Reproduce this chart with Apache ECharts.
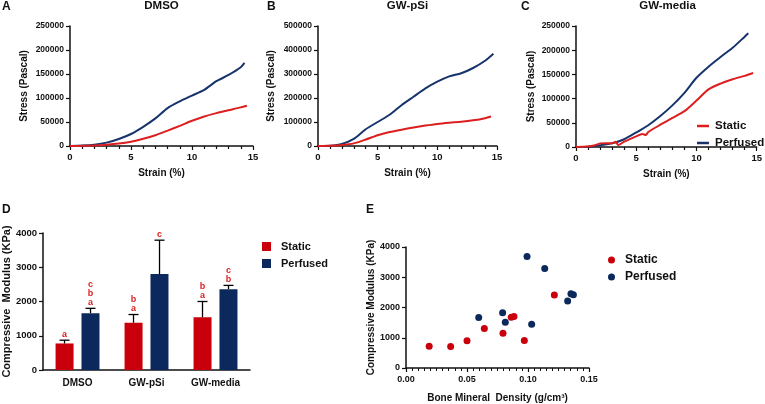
<!DOCTYPE html>
<html><head><meta charset="utf-8">
<script src="https://cdn.jsdelivr.net/npm/echarts@6/dist/echarts.min.js"></script>
<style>html,body{margin:0;padding:0;background:#fff}#c{width:765px;height:404px}</style>
</head><body><div id="c"></div>
<script>
// ---------- DATA ----------
// Panels A-C: stress-strain curves [strain %, stress Pa]
const dmsoPerfused = [[0,0],[1,800],[2,2800],[3,7000],[4,14600],[5,25000],[6,40000],[7,57600],[8,79000],[9,93000],[10,105000],[11,117000],[12,135000],[13,148000],[14,164000],[14.3,173000]];
const dmsoStatic   = [[0,0],[1,300],[2,1000],[3,2500],[4,5000],[5,9000],[6,15000],[7,22500],[8,32000],[9,42000],[10,52500],[11,61500],[12,68500],[13,74500],[14,80500],[14.5,84000]];
const gwpsiPerfused = [[0,0],[1,1500],[2,9000],[3,30000],[4,70000],[5,100000],[6,130000],[7,170000],[8,205000],[9,240000],[10,268000],[11,290000],[12,303000],[13,325000],[14,355000],[14.7,384000]];
const gwpsiStatic   = [[0,0],[1,1000],[2,4000],[3,11000],[4,27000],[5,45000],[6,58000],[7,68000],[8,77000],[9,85000],[10,92000],[11,97000],[12,101000],[13,107000],[14,116000],[14.5,123000]];
const gwmPerfused = [[0,0],[1,500],[2,3500],[3,7500],[4,16000],[5,30000],[6,45000],[7,64000],[8,86000],[9,112000],[10,143000],[11,166000],[12,186000],[13,205000],[14,228000],[14.3,235000]];
const gwmStatic   = [[0,0],[1,1000],[1.5,3000],[2,7500],[2.5,8000],[3,8000],[3.3,11000],[3.5,4000],[4,11000],[5,22000],[5.5,27000],[5.8,25000],[6,31000],[7,46000],[8,60000],[9,74000],[10,96000],[11,119000],[12,131000],[13,140000],[14,147000],[14.7,153000]];

// Panel D: compressive modulus bars
const categories = ['DMSO','GW-pSi','GW-media'];
const staticMean = [775, 1380, 1540];
const staticErr  = [95, 240, 460];
const perfusedMean = [1660, 2800, 2360];
const perfusedErr  = [140, 990, 110];
const staticLetters = ['a','b\na','b\na'];
const perfusedLetters = ['c\nb\na','c','c\nb'];

// Panel E: modulus vs bone mineral density
const bmdStatic = [0.019,0.0366,0.050,0.0642,0.0795,0.0863,0.0885,0.097,0.1216];
const modStatic = [723,712,899,1304,1151,1677,1699,910,2411];
const bmdPerfused = [0.0596,0.0792,0.0814,0.0992,0.103,0.1137,0.1325,0.1352,0.1372];
const modPerfused = [1666,1830,1512,3682,1447,3288,2214,2455,2422];

const titles = ['DMSO','GW-pSi','GW-media'];
const panelLetters = ['A','B','C','D','E'];

// ---------- STYLE ----------
const FONT = '"Liberation Sans", Arial, sans-serif';
const RED = '#dc1e1e', NAVY = '#16336c', BAR_RED = '#c9000b', BAR_NAVY = '#0b295c', INK = '#111';

const chart = echarts.init(document.getElementById('c'), null, {renderer:'canvas'});

const grids = [
  {left:70, top:26, width:183, height:120},
  {left:318, top:26, width:179, height:120},
  {left:576, top:26, width:183, height:121},
  {left:40, top:233, width:210, height:137},
  {left:406, top:247, width:183, height:121}
];

const axisLine = {show:true, onZero:false, lineStyle:{color:INK, width:1.5}};
const axisTick = {show:true, inside:false, length:4, lineStyle:{color:INK, width:1.2}};
const lbl = (size, extra) => Object.assign({color:INK, fontFamily:FONT, fontWeight:'bold', fontSize:size}, extra||{});
const plain = v => String(v);

function strainAxis(i){
  return {gridIndex:i, type:'value', min:0, max:15, interval:5,
    axisLine, axisTick, splitLine:{show:false},
    minorTick:{show:true, splitNumber:5, length:3, lineStyle:{color:INK, width:1.2}},
    axisLabel:lbl(9.5,{margin:6, formatter:plain}),
    name:'Strain (%)', nameLocation:'middle', nameGap:22, nameTextStyle:lbl(10)};
}
function stressAxis(i, max, interval, gap){
  return {gridIndex:i, type:'value', min:0, max, interval,
    axisLine, axisTick, splitLine:{show:false},
    axisLabel:lbl(8.5,{margin:6, formatter:plain}),
    name:'Stress (Pascal)', nameLocation:'middle', nameGap:gap, nameTextStyle:lbl(10)};
}

const xAxis = [
  strainAxis(0), strainAxis(1), strainAxis(2),
  {gridIndex:3, type:'category', data:categories, axisLine, axisTick:{show:false},
    axisLabel:lbl(10,{margin:8})},
  {gridIndex:4, type:'value', min:0, max:0.15, interval:0.05, axisLine, axisTick, splitLine:{show:false},
    minorTick:{show:true, splitNumber:10, length:3, lineStyle:{color:INK, width:1}},
    axisLabel:lbl(9,{margin:7, formatter:v=>v.toFixed(2)}),
    name:'Bone Mineral  Density (g/cm\u00B3)', nameLocation:'middle', nameGap:25, nameTextStyle:lbl(10)}
];
const yAxis = [
  stressAxis(0, 250000, 50000, 41),
  stressAxis(1, 500000, 100000, 42),
  stressAxis(2, 250000, 50000, 40),
  {gridIndex:3, type:'value', min:0, max:4000, interval:1000, axisLine, axisTick, splitLine:{show:false},
    axisLabel:lbl(9.5,{margin:6, formatter:plain}),
    name:'Compressive  Modulus (KPa)', nameLocation:'middle', nameGap:26, nameTextStyle:lbl(11)},
  {gridIndex:4, type:'value', min:0, max:4000, interval:1000, axisLine, axisTick, splitLine:{show:false},
    axisLabel:lbl(9,{margin:6, formatter:plain}),
    name:'Compressive Modulus (KPa)', nameLocation:'middle', nameGap:28, nameTextStyle:lbl(10)}
];

function curve(name, data, i, color){
  return {name, type:'line', xAxisIndex:i, yAxisIndex:i, data, symbol:'none', smooth:0.25,
    lineStyle:{color, width:2}, itemStyle:{color}, z:3};
}

const errData = [];
categories.forEach((c,i)=>{ errData.push([i, staticMean[i], staticErr[i], 0]); });
categories.forEach((c,i)=>{ errData.push([i, perfusedMean[i], perfusedErr[i], 1]); });
const errLetters = staticLetters.concat(perfusedLetters);

const series = [
  curve('Perfused', dmsoPerfused, 0, NAVY), curve('Static', dmsoStatic, 0, RED),
  curve('Perfused', gwpsiPerfused, 1, NAVY), curve('Static', gwpsiStatic, 1, RED),
  curve('Perfused', gwmPerfused, 2, NAVY), curve('Static', gwmStatic, 2, RED),
  {name:'Static', type:'bar', xAxisIndex:3, yAxisIndex:3, data:staticMean, barWidth:18, barGap:'44%',
    itemStyle:{color:BAR_RED}},
  {name:'Perfused', type:'bar', xAxisIndex:3, yAxisIndex:3, data:perfusedMean, barWidth:18, barGap:'44%',
    itemStyle:{color:BAR_NAVY}},
  {name:'errors', type:'custom', xAxisIndex:3, yAxisIndex:3, data:errData, z:5,
    encode:{x:0, y:1},
    renderItem:function(params, api){
      const i = api.value(0), m = api.value(1), e = api.value(2), g = api.value(3);
      const base = api.coord([i, m]);
      const top = api.coord([i, m + e]);
      const off = (g === 0 ? -1 : 1) * 13;
      const x = base[0] + off;
      return {type:'group', children:[
        {type:'line', shape:{x1:x, y1:base[1], x2:x, y2:top[1]}, style:{stroke:'#000', lineWidth:1.3}},
        {type:'line', shape:{x1:x-5, y1:top[1], x2:x+5, y2:top[1]}, style:{stroke:'#000', lineWidth:1.3}},
        {type:'text', x:x, y:top[1]-1, style:{text:errLetters[params.dataIndex], fill:RED,
          font:'bold 9px ' + FONT, align:'center', verticalAlign:'bottom', lineHeight:9}}
      ]};
    }},
  {name:'Static', type:'scatter', xAxisIndex:4, yAxisIndex:4, symbolSize:7,
    data:bmdStatic.map((b,i)=>[b, modStatic[i]]), itemStyle:{color:BAR_RED, opacity:1}},
  {name:'Perfused', type:'scatter', xAxisIndex:4, yAxisIndex:4, symbolSize:7,
    data:bmdPerfused.map((b,i)=>[b, modPerfused[i]]), itemStyle:{color:BAR_NAVY, opacity:1}}
];

const legText = (s)=>({color:INK, fontFamily:FONT, fontWeight:'bold', fontSize:s});
const legend = [
  {left:692, top:115, orient:'vertical', itemGap:5, itemWidth:12, itemHeight:2.5, selectedMode:false,
    textStyle:Object.assign(legText(11.5),{padding:[0,0,0,1]}),
    data:[{name:'Static', icon:'rect', itemStyle:{color:RED}}, {name:'Perfused', icon:'rect', itemStyle:{color:NAVY}}]},
  {left:257, top:236, orient:'vertical', itemGap:6, itemWidth:9, itemHeight:9, selectedMode:false,
    textStyle:Object.assign(legText(11),{padding:[0,0,0,5]}),
    data:[{name:'Static', icon:'rect', itemStyle:{color:BAR_RED}}, {name:'Perfused', icon:'rect', itemStyle:{color:BAR_NAVY}}]},
  {left:603, top:249, orient:'vertical', itemGap:5, itemWidth:7, itemHeight:7, selectedMode:false,
    textStyle:Object.assign(legText(12),{padding:[0,0,0,5]}),
    data:[{name:'Static', icon:'circle', itemStyle:{color:BAR_RED}}, {name:'Perfused', icon:'circle', itemStyle:{color:BAR_NAVY}}]}
];

const title = titles.map((t,i)=>({text:t, left:grids[i].left + grids[i].width/2, top:0, textAlign:'center', padding:0,
  textStyle:{color:INK, fontFamily:FONT, fontWeight:'bold', fontSize:11.5}}));

const letterPos = [[2,1],[267,1],[521,1],[2,204],[366,204]];
const graphic = panelLetters.map((L,i)=>({type:'text', left:letterPos[i][0], top:letterPos[i][1],
  style:{text:L, fill:INK, font:'bold 12px ' + FONT}}));

chart.setOption({animation:false, backgroundColor:'#fff', grid:grids, xAxis, yAxis, series, legend, title, graphic});
</script></body></html>
